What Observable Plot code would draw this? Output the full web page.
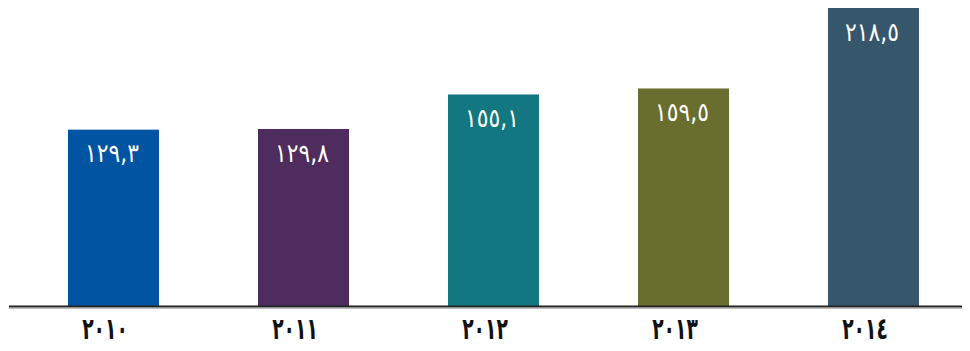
<!DOCTYPE html>
<html lang="ar">
<head>
<meta charset="utf-8">
<script src="https://cdn.jsdelivr.net/npm/d3@7"></script>
<script src="https://cdn.jsdelivr.net/npm/@observablehq/plot@0.6"></script>
<style>
  html, body { margin: 0; padding: 0; background: #fff; }
  #chart { width: 970px; height: 351px; }
</style>
</head>
<body>
<div id="chart"></div>
<script>
// Yearly totals, 2010–2014
const years = [2010, 2011, 2012, 2013, 2014];
const values = [129.3, 129.8, 155.1, 159.5, 218.5];
const colors = ["#0054a1", "#4f2c5e", "#127780", "#696d2e", "#35566b"];

const arabicDigits = "٠١٢٣٤٥٦٧٨٩";
const toArabic = s => String(s).replace(/[0-9]/g, d => arabicDigits[+d]);
const fmtValue = v => toArabic(v.toFixed(1).replace(".", ","));

const data = years.map((y, i) => ({ year: String(y), value: values[i], color: colors[i] }));

const chart = Plot.plot({
  width: 970,
  height: 351,
  marginTop: 8,
  marginBottom: 45,
  marginLeft: 9,
  marginRight: 8,
  style: { fontFamily: "'DejaVu Sans', sans-serif", background: "#fff" },
  x: {
    domain: years.map(String),
    paddingInner: 0.523,
    paddingOuter: 0.2597,
    align: 0.576,
    label: null,
    axis: null
  },
  y: { domain: [0, 218.5], axis: null },
  color: { type: "identity" },
  marks: [
    Plot.barY(data, { x: "year", y: "value", fill: "color" }),
    Plot.ruleY([0], { stroke: "#bdbdbd", strokeWidth: 1, dy: 2 }),
    Plot.ruleY([0], { stroke: "#222", strokeWidth: 2 }),
    // value inside the top of each bar
    Plot.text(data, {
      x: "year", y: "value", text: d => fmtValue(d.value),
      dy: 24, dx: -2, fill: "#fff", fontSize: 23, fontWeight: "normal",
      className: "bar-value"
    }),
    // year labels under the baseline
    Plot.text(data, {
      x: "year", frameAnchor: "bottom", text: d => toArabic(d.year),
      dy: 30, dx: -9, fill: "#111", fontSize: 24, fontWeight: "bold",
      className: "year-label"
    })
  ]
});

document.getElementById("chart").appendChild(chart);

// Narrow, tall lettering: scale each label about its own centre
function stretch(selector, sx, sy, spacing) {
  chart.querySelectorAll(selector).forEach(el => {
    if (spacing != null) el.style.letterSpacing = spacing;
    const b = el.getBBox();
    const cx = b.x + b.width / 2, cy = b.y + b.height / 2;
    const t = el.getAttribute("transform") || "";
    el.setAttribute("transform",
      `${t} translate(${cx},${cy}) scale(${sx},${sy}) translate(${-cx},${-cy})`);
  });
}
stretch(".year-label text", 0.78, 1.25, "8px");
stretch(".bar-value text", 0.95, 1.12, "4px");
</script>
</body>
</html>
